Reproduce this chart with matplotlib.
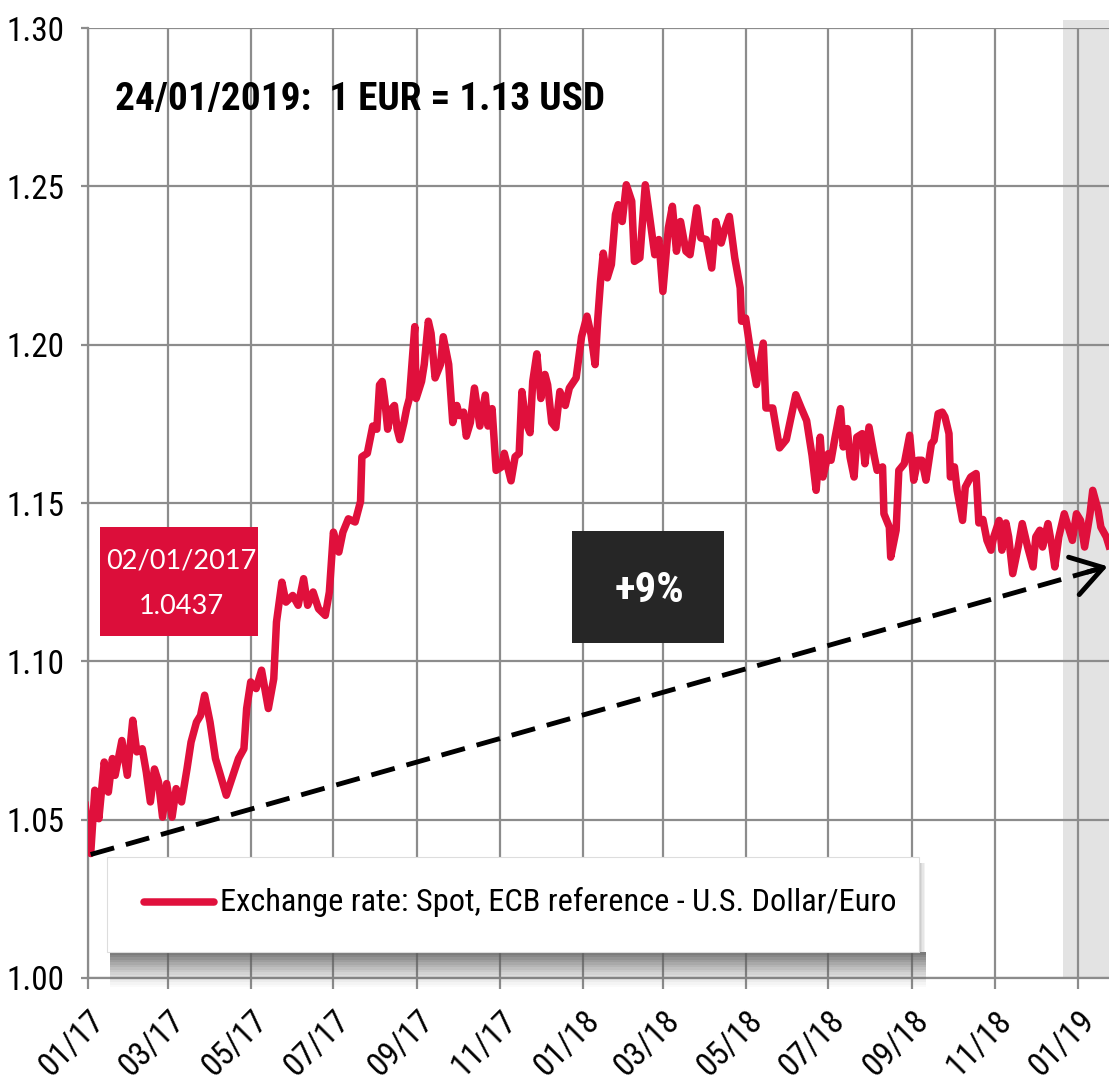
import os
import numpy as np
import matplotlib
matplotlib.use('Agg')
import matplotlib.pyplot as plt
import matplotlib.dates as mdates
from matplotlib import font_manager
from matplotlib.font_manager import FontProperties
from matplotlib.patches import Rectangle
from matplotlib.ticker import FormatStrFormatter

# days counted from 01/01/2017 and the ECB reference rate (USD per EUR)
days = [-2, 2, 5, 8, 12, 15, 18, 20, 25, 29, 33, 36, 40, 43, 46, 49, 52, 55, 58, 62,
        65, 69, 73, 76, 80, 83, 86, 90, 94, 97, 102, 106, 111, 115, 117, 120, 124, 128,
        133, 137, 139, 143, 146, 151, 155, 159, 162, 166, 170, 175, 178, 181, 185, 188,
        192, 197, 201, 202, 206, 208, 210, 213, 215, 217, 219, 221, 224, 226, 228, 230,
        233, 235, 237, 241, 242, 246, 248, 251, 253, 256, 260, 262, 266, 269, 272, 274,
        277, 279, 282, 285, 289, 293, 295, 298, 301, 305, 307, 312, 315, 318, 320, 323,
        326, 328, 331, 334, 337, 339, 342, 345, 348, 352, 355, 360, 364, 368, 371, 374,
        376, 378, 380, 383, 386, 389, 391, 394, 397, 401, 403, 407, 411, 414, 418, 421,
        424, 428, 431, 434, 437, 441, 444, 449, 452, 456, 460, 463, 467, 470, 473, 477,
        481, 482, 485, 489, 493, 498, 500, 505, 510, 515, 522, 526, 530, 534, 537, 540,
        542, 546, 548, 551, 555, 557, 560, 562, 565, 567, 571, 573, 576, 580, 582, 586,
        587, 591, 592, 596, 598, 602, 606, 609, 612, 615, 618, 622, 624, 627, 630, 632,
        635, 636, 639, 641, 645, 647, 651, 655, 657, 660, 663, 666, 668, 672, 674, 677,
        679, 682, 686, 689, 693, 697, 699, 702, 704, 708, 711, 713, 716, 720, 723, 726,
        729, 732, 735, 739, 741, 745, 747, 751, 753]
rate = [1.0545, 1.0393, 1.0593, 1.0503, 1.0682, 1.0587, 1.0693, 1.0640, 1.0750, 1.0640,
        1.0814, 1.0714, 1.0724, 1.0650, 1.0556, 1.0660, 1.0619, 1.0508, 1.0614, 1.0508,
        1.0598, 1.0556, 1.0660, 1.0745, 1.0808, 1.0829, 1.0893, 1.0808, 1.0693, 1.0650,
        1.0577, 1.0629, 1.0693, 1.0724, 1.0851, 1.0935, 1.0914, 1.0972, 1.0851, 1.0945,
        1.1124, 1.1250, 1.1187, 1.1208, 1.1177, 1.1261, 1.1177, 1.1219, 1.1166, 1.1145,
        1.1219, 1.1408, 1.1345, 1.1408, 1.1450, 1.1440, 1.1505, 1.1646, 1.1657, 1.1700,
        1.1743, 1.1733, 1.1873, 1.1884, 1.1819, 1.1733, 1.1798, 1.1808, 1.1733, 1.1700,
        1.1754, 1.1798, 1.1830, 1.2057, 1.1830, 1.1884, 1.1938, 1.2074, 1.2036, 1.1895,
        1.1938, 1.2025, 1.1938, 1.1754, 1.1808, 1.1776, 1.1787, 1.1711, 1.1754, 1.1863,
        1.1743, 1.1841, 1.1743, 1.1798, 1.1603, 1.1614, 1.1657, 1.1570, 1.1646, 1.1657,
        1.1852, 1.1754, 1.1722, 1.1884, 1.1971, 1.1830, 1.1906, 1.1873, 1.1754, 1.1738,
        1.1852, 1.1808, 1.1863, 1.1895, 1.2025, 1.2090, 1.2032, 1.1937, 1.2084, 1.2200,
        1.2289, 1.2211, 1.2253, 1.2411, 1.2442, 1.2389, 1.2505, 1.2453, 1.2263, 1.2274,
        1.2505, 1.2411, 1.2284, 1.2332, 1.2168, 1.2368, 1.2437, 1.2295, 1.2389, 1.2295,
        1.2284, 1.2432, 1.2337, 1.2332, 1.2242, 1.2389, 1.2321, 1.2368, 1.2405, 1.2274,
        1.2179, 1.2074, 1.2084, 1.1968, 1.1874, 1.2005, 1.1800, 1.1800, 1.1674, 1.1700,
        1.1842, 1.1800, 1.1760, 1.1650, 1.1540, 1.1708, 1.1582, 1.1656, 1.1635, 1.1708,
        1.1798, 1.1677, 1.1735, 1.1645, 1.1582, 1.1708, 1.1719, 1.1624, 1.1740, 1.1645,
        1.1603, 1.1614, 1.1466, 1.1424, 1.1329, 1.1414, 1.1603, 1.1624, 1.1714, 1.1572,
        1.1635, 1.1635, 1.1572, 1.1687, 1.1698, 1.1782, 1.1787, 1.1772, 1.1719, 1.1582,
        1.1614, 1.1540, 1.1445, 1.1550, 1.1582, 1.1593, 1.1437, 1.1448, 1.1382, 1.1351,
        1.1393, 1.1445, 1.1351, 1.1437, 1.1393, 1.1277, 1.1361, 1.1435, 1.1361, 1.1298,
        1.1393, 1.1414, 1.1361, 1.1435, 1.1361, 1.1298, 1.1393, 1.1466, 1.1424, 1.1382,
        1.1466, 1.1445, 1.1361, 1.1466, 1.1540, 1.1477, 1.1424, 1.1393, 1.1365]

title_text = '24/01/2019:  1 EUR = 1.13 USD'
start_label = ['02/01/2017', '1.0437']
change_label = '+9%'
legend_label = 'Exchange rate: Spot, ECB reference - U.S. Dollar/Euro'
trend_dates = ['2017-01-03', '2019-01-23']
trend_vals = [1.039, 1.130]
shade_from = '2018-12-21'
x_from, x_to = '2017-01-01', '2019-01-24'

RED = '#e0103c'
GRID = '#8c8c8c'
BAD = ('italic', 'oblique', 'light', 'thin', 'medium', 'black', 'semi', 'extra', 'heavy')


def find_font(keys, bold):
    for key in keys:
        for f in font_manager.fontManager.ttflist:
            fn = os.path.basename(f.fname).lower()
            for ch in '-_ ':
                fn = fn.replace(ch, '')
            if key not in fn or any(b in fn for b in BAD):
                continue
            if ('bold' in fn) == bold:
                return f.fname
    return None


keys = ['liberationsansnarrow', 'arialnarrow', 'robotocondensed', 'dejavusanscondensed',
        'notosanscondensed', 'opensanscondensed', 'liberationsans']
reg_file = find_font(keys, False)
bold_file = find_font(keys, True)
fp_reg = FontProperties(fname=reg_file) if reg_file else FontProperties(family='DejaVu Sans')
fp_bold = FontProperties(fname=bold_file) if bold_file else FontProperties(family='DejaVu Sans',
                                                                             weight='bold')
names = {f.name for f in font_manager.fontManager.ttflist}
boxfont = 'Lato' if 'Lato' in names else 'DejaVu Sans'

dates = np.datetime64('2017-01-01') + np.array(days).astype('timedelta64[D]')

fig = plt.figure(figsize=(11.09, 10.86), dpi=100)
renderer = fig.canvas.get_renderer()


def fit(text, fp, target_px):
    # font size that makes the text as wide as in the reference
    p = fp.copy()
    p.set_size(20)
    t = fig.text(0, 0, text, fontproperties=p)
    w = t.get_window_extent(renderer=renderer).width
    t.remove()
    q = fp.copy()
    q.set_size(20 * target_px / w)
    return q


fp_tick = fit('1.30', fp_reg, 58)
fp_title = fit(title_text, fp_bold, 489)
fp_leg = fit(legend_label, fp_reg, 674)
fp_pct = fit(change_label, fp_bold, 70)

ax = fig.add_axes([88 / 1109, 108 / 1086, 1021 / 1109, 950 / 1086])

ax.axvspan(np.datetime64(shade_from), np.datetime64(x_to), ymax=1.008, color='#e3e3e3',
           lw=0, zorder=0, clip_on=False)
ax.plot(dates, rate, color=RED, lw=5.4, solid_joinstyle='round', zorder=3)

# dashed trend arrow with a solid open head
tdates = np.array(trend_dates, dtype='datetime64[D]')
ax.plot(tdates, trend_vals, color='black', lw=3.5, dashes=(5, 2.5), zorder=4)
slope = (trend_vals[1] - trend_vals[0]) / (tdates[1] - tdates[0]).astype(float)
ax.annotate('', xy=(tdates[1], trend_vals[1]),
            xytext=(tdates[1] - np.timedelta64(15, 'D'), trend_vals[1] - 15 * slope),
            arrowprops=dict(arrowstyle='->,head_length=1.1,head_width=0.7', lw=3.5,
                            color='black', mutation_scale=20, shrinkA=0, shrinkB=0),
            zorder=4, annotation_clip=False)

ax.set_xlim(np.datetime64(x_from), np.datetime64(x_to))
ax.set_ylim(1.0, 1.30)
ax.set_yticks(np.arange(1.0, 1.301, 0.05))
ax.yaxis.set_major_formatter(FormatStrFormatter('%.2f'))
ax.xaxis.set_major_locator(mdates.MonthLocator(bymonth=[1, 3, 5, 7, 9, 11]))
ax.xaxis.set_major_formatter(mdates.DateFormatter('%m/%y'))
ax.grid(True, color=GRID, lw=1.6)
ax.set_axisbelow(True)
for s in ['top', 'right']:
    ax.spines[s].set_visible(False)
for s in ['left', 'bottom']:
    ax.spines[s].set_color(GRID)
    ax.spines[s].set_linewidth(1.6)
ax.tick_params(colors=GRID, labelcolor='black', width=1.6)
ax.tick_params(axis='y', length=5, pad=12)
ax.tick_params(axis='x', length=8, pad=11)
fig.canvas.draw()
for lab in ax.get_yticklabels():
    lab.set_fontproperties(fp_tick)
for lab in ax.get_xticklabels():
    lab.set_fontproperties(fp_tick)
    lab.set_rotation(45)
    lab.set_ha('right')
    lab.set_va('top')
    lab.set_rotation_mode('anchor')

ax.text(27 / 1021, 878 / 950, title_text, transform=ax.transAxes, fontproperties=fp_title,
        ha='left', va='center', zorder=6)

# red box with start value
ax.add_patch(Rectangle((12 / 1021, 342 / 950), 158 / 1021, 109 / 950, transform=ax.transAxes,
                       color='#dc0e3a', lw=0, zorder=5))
ax.text(93 / 1021, 417 / 950, start_label[0], transform=ax.transAxes,
        family=boxfont, fontsize=19.5, color='white', ha='center', va='center', zorder=6)
ax.text(93 / 1021, 372 / 950, start_label[1], transform=ax.transAxes,
        family=boxfont, fontsize=19.5, color='white', ha='center', va='center', zorder=6)

# black box with change
ax.add_patch(Rectangle((484 / 1021, 335 / 950), 152 / 1021, 112 / 950, transform=ax.transAxes,
                       color='#262626', lw=0, zorder=5))
ax.text(561 / 1021, 387 / 950, change_label, transform=ax.transAxes, fontproperties=fp_pct,
        color='white', ha='center', va='center', zorder=6)

# legend box with soft shadow
lx0, lx1 = 19 / 1021, 831 / 1021
ly0, ly1 = 26 / 950, 121 / 950
for k in range(14):
    a = 0.8 * (1 - k / 14) ** 1.3
    ax.add_patch(Rectangle((lx0 + 3 / 1021, ly0 - (k + 1) * 2.5 / 950), lx1 - lx0 + 4 / 1021,
                           2.5 / 950, transform=ax.transAxes, color='#5a5a5a', alpha=a,
                           lw=0, zorder=5, clip_on=False))
for k in range(4):
    ax.add_patch(Rectangle((lx1 + k * 1.5 / 1021, ly0), 1.5 / 1021, ly1 - ly0 - 6 / 950,
                           transform=ax.transAxes, color='#5a5a5a', alpha=0.3 * (1 - k / 4),
                           lw=0, zorder=5, clip_on=False))
ax.add_patch(Rectangle((lx0, ly0), lx1 - lx0, ly1 - ly0, transform=ax.transAxes,
                       facecolor='white', edgecolor='#dddddd', lw=0.8, zorder=6))
ax.plot([56 / 1021, 126 / 1021], [76 / 950, 76 / 950], transform=ax.transAxes, color=RED,
        lw=5.4, solid_capstyle='round', zorder=7)
ax.text(132 / 1021, 76 / 950, legend_label, transform=ax.transAxes, fontproperties=fp_leg,
        ha='left', va='center', zorder=7)

fig.savefig('out.png', dpi=100)
